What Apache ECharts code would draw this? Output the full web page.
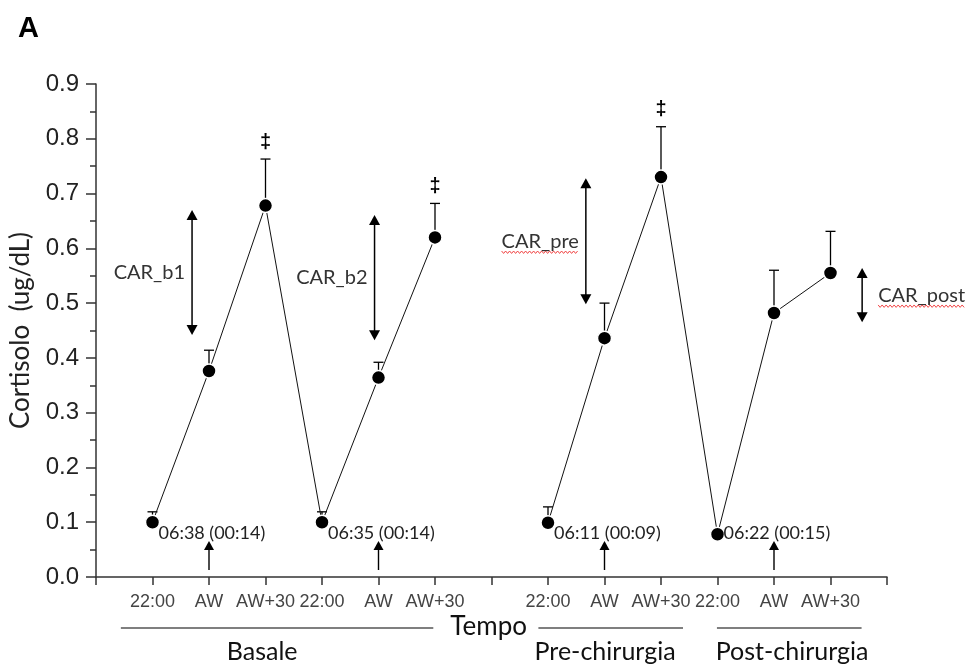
<!DOCTYPE html>
<html><head><meta charset="utf-8">
<script src="https://cdn.jsdelivr.net/npm/echarts@6/dist/echarts.min.js"></script>
<style>html,body{margin:0;padding:0;background:#fff}#c{width:972px;height:666px}</style>
</head><body><div id="c"></div>
<script>
// ---- data ----
const xTickLabels = ['', '22:00','AW','AW+30','22:00','AW','AW+30','', '22:00','AW','AW+30','22:00','AW','AW+30',''];
const xBasale = [1,2,3,4,5,6];
const meanBasale = [0.100,0.376,0.678,0.100,0.364,0.620];
const errTopBasale = [0.119,0.414,0.763,0.119,0.392,0.682];
const xSurgery = [8,9,10,11,12,13];
const meanSurgery = [0.099,0.436,0.730,0.078,0.482,0.555];
const errTopSurgery = [0.128,0.500,0.822,0.078,0.560,0.631];
const daggerX = [3,6,10];
const carNames = ['CAR_b1','CAR_b2','CAR_pre','CAR_post'];
const carX = [1.70,4.93,8.67,13.56];
const carLow = [0.442,0.432,0.498,0.465];
const carHigh = [0.670,0.661,0.728,0.564];
const wakeTimes = ['06:38 (00:14)','06:35 (00:14)','06:11 (00:09)','06:22 (00:15)'];
const wakeTextX = [1,4,8,11];
const wakeArrowX = [2,5,9,12];
const groupNames = ['Basale','Pre-chirurgia','Post-chirurgia'];
const groupFrom = [0.44,7.83,10.99];
const groupTo = [5.97,10.39,13.55];
const groupLabelX = [2.94,9.01,12.32];
const xAxisTitle = 'Tempo';
const xAxisTitleX = 6.95;
const yAxisTitle = 'Cortisolo  (ug/dL)';
const panelLabel = 'A';

// ---- helpers ----
const CAL = 'Lato, "Open Sans", sans-serif';
const ARI = '"Liberation Sans", Arial, sans-serif';
const measureCtx = document.createElement('canvas').getContext('2d');
function textWidth(t, font){ measureCtx.font = font; return measureCtx.measureText(t).width; }
const allX = xBasale.concat(xSurgery);
const allTop = errTopBasale.concat(errTopSurgery);
const allMean = meanBasale.concat(meanSurgery);

const chart = echarts.init(document.getElementById('c'), null, {renderer:'canvas'});

function errBar(params, api){
  const x=api.value(0), m=api.value(1), t=api.value(2);
  const p0=api.coord([x,m]), p1=api.coord([x,t]);
  if (Math.abs(p0[1]-p1[1])<1) return {type:'group', children:[]};
  const st={stroke:'#000',lineWidth:1.3};
  return {type:'group', children:[
    {type:'line', shape:{x1:p0[0],y1:p0[1],x2:p1[0],y2:p1[1]}, style:st},
    {type:'line', shape:{x1:p1[0]-5,y1:p1[1],x2:p1[0]+5,y2:p1[1]}, style:st}
  ]};
}
function dagger(params, api){
  const p=api.coord([api.value(0), api.value(1)]);
  return {type:'text', style:{text:'‡', x:p[0], y:p[1]-17, align:'center', verticalAlign:'middle',
    font:'bold 20px '+ARI, fill:'#000'}};
}
function carArrow(params, api){
  const x=api.value(0), lo=api.value(1), hi=api.value(2), i=api.value(3);
  const pt=api.coord([x,hi]), pb=api.coord([x,lo]);
  const px=pt[0], yt=pt[1], yb=pb[1];
  const h=10, w=5.5;
  const ch=[
    {type:'line', shape:{x1:px,y1:yt+h-1,x2:px,y2:yb-h+1}, style:{stroke:'#000',lineWidth:1.5}},
    {type:'polygon', shape:{points:[[px,yt],[px-w,yt+h],[px+w,yt+h]]}, style:{fill:'#000'}},
    {type:'polygon', shape:{points:[[px,yb],[px-w,yb-h],[px+w,yb-h]]}, style:{fill:'#000'}}
  ];
  const right = (i===3);
  const font='20px '+CAL;
  const name=carNames[i];
  const mid=(yt+yb)/2;
  const tx = right ? px+16 : px-7;
  ch.push({type:'text', style:{text:name, x:tx, y:mid, align:right?'left':'right', verticalAlign:'middle', font:font, fill:'#333'}});
  if (i>=2){
    const tw=textWidth(name,font);
    const x0 = right ? tx : tx-tw;
    const pts=[]; let k=0;
    for(let xx=x0; xx<=x0+tw; xx+=2, k++) pts.push([xx, mid+11+(k%2?1.2:-1.2)]);
    ch.push({type:'polyline', shape:{points:pts}, style:{stroke:'#e33',lineWidth:0.9,fill:null}});
  }
  return {type:'group', children:ch};
}
function wakeText(params, api){
  const p=api.coord([api.value(0),0]);
  return {type:'text', style:{text:wakeTimes[api.value(1)], x:p[0]+6, y:p[1]-44, align:'left', verticalAlign:'middle', font:'18px '+CAL, fill:'#222'}};
}
function wakeArrow(params, api){
  const p=api.coord([api.value(0),0]);
  const x=p[0], y0=p[1]-7, yt=p[1]-36;
  return {type:'group', children:[
    {type:'line', shape:{x1:x,y1:y0,x2:x,y2:yt+8}, style:{stroke:'#000',lineWidth:1.4}},
    {type:'polygon', shape:{points:[[x,yt],[x-5,yt+9],[x+5,yt+9]]}, style:{fill:'#000'}}
  ]};
}
function groupBracket(params, api){
  const i=api.value(3);
  const p0=api.coord([api.value(0),0]), p1=api.coord([api.value(1),0]), pl=api.coord([api.value(2),0]);
  return {type:'group', children:[
    {type:'line', shape:{x1:p0[0],y1:p0[1]+51,x2:p1[0],y2:p0[1]+51}, style:{stroke:'#000',lineWidth:1.2}},
    {type:'text', style:{text:groupNames[i], x:pl[0], y:pl[1]+75, align:'center', verticalAlign:'middle', font:'25px '+CAL, fill:'#111'}}
  ]};
}
function axisTitle(params, api){
  const p=api.coord([api.value(0),0]);
  return {type:'text', style:{text:xAxisTitle, x:p[0], y:p[1]+50, align:'center', verticalAlign:'middle', font:'26px '+CAL, fill:'#111'}};
}

const customBase = {type:'custom', coordinateSystem:'cartesian2d', silent:true, clip:false, animation:false};

chart.setOption({
  animation:false,
  backgroundColor:'#fff',
  title:{text:panelLabel, left:13, top:9, textStyle:{fontFamily:ARI, fontSize:29, fontWeight:'bold', color:'#000'}},
  grid:{left:96, right:85, top:84, bottom:89, containLabel:false},
  xAxis:{type:'value', min:0, max:14, interval:1,
    axisLine:{lineStyle:{color:'#333', width:1.5}},
    axisTick:{show:true, length:8, lineStyle:{color:'#333', width:1.5}},
    axisLabel:{formatter:v=>xTickLabels[Math.round(v)]||'', fontFamily:ARI, fontSize:18, color:'#444', margin:16, showMinLabel:true, showMaxLabel:true},
    splitLine:{show:false}},
  yAxis:{type:'value', min:0, max:0.9, interval:0.1,
    name:yAxisTitle, nameLocation:'middle', nameGap:62, nameRotate:90,
    nameTextStyle:{fontFamily:CAL, fontSize:26, color:'#222'},
    axisLine:{show:true, lineStyle:{color:'#333', width:1.5}},
    axisTick:{show:true, length:10, lineStyle:{color:'#333', width:1.5}},
    minorTick:{show:true, splitNumber:2, length:6, lineStyle:{color:'#333', width:1.5}},
    axisLabel:{formatter:v=>v.toFixed(1), fontFamily:ARI, fontSize:24, color:'#222', margin:17},
    splitLine:{show:false}, minorSplitLine:{show:false}},
  series:[
    Object.assign({}, customBase, {name:'err', z:1, renderItem:errBar,
      data: allX.map((x,i)=>[x, allMean[i], allTop[i]])}),
    {type:'line', name:'Basale', z:3, silent:true, data:xBasale.map((x,i)=>[x,meanBasale[i]]),
      symbol:'circle', symbolSize:14, itemStyle:{color:'#000', borderColor:'#fff', borderWidth:1.5},
      lineStyle:{color:'#111', width:1}},
    {type:'line', name:'Chirurgia', z:3, silent:true, data:xSurgery.map((x,i)=>[x,meanSurgery[i]]),
      symbol:'circle', symbolSize:14, itemStyle:{color:'#000', borderColor:'#fff', borderWidth:1.5},
      lineStyle:{color:'#111', width:1}},
    Object.assign({}, customBase, {name:'dagger', z:4, renderItem:dagger,
      data: daggerX.map(x=>[x, allTop[allX.indexOf(x)]])}),
    Object.assign({}, customBase, {name:'car', z:4, renderItem:carArrow,
      data: carX.map((x,i)=>[x, carLow[i], carHigh[i], i])}),
    Object.assign({}, customBase, {name:'wakeText', z:4, renderItem:wakeText,
      data: wakeTextX.map((x,i)=>[x, i])}),
    Object.assign({}, customBase, {name:'wakeArrow', z:4, renderItem:wakeArrow,
      data: wakeArrowX.map(x=>[x, 0])}),
    Object.assign({}, customBase, {name:'groups', z:4, renderItem:groupBracket,
      data: groupNames.map((n,i)=>[groupFrom[i], groupTo[i], groupLabelX[i], i])}),
    Object.assign({}, customBase, {name:'xtitle', z:4, renderItem:axisTitle,
      data: [[xAxisTitleX, 0]]})
  ]
});
</script></body></html>
